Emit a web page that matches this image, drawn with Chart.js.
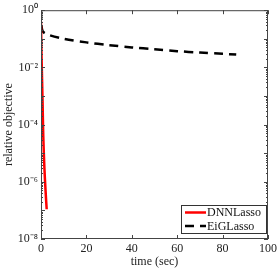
<!DOCTYPE html>
<html>
<head>
<meta charset="utf-8">
<script src="https://cdn.jsdelivr.net/npm/chart.js@4"></script>
<style>
  html, body { margin: 0; padding: 0; background: #fff; }
  #wrap { width: 280px; height: 273px; }
</style>
</head>
<body>
<div id="wrap"><canvas id="chart"></canvas></div>
<script>
// data
const dnnTime = [0, 0.3, 0.7, 1.0, 1.5, 2.0, 2.5];
const dnnObj  = [0.4, 1.5e-2, 6e-4, 4e-5, 3e-6, 5e-7, 1.1e-7];
const eigTime = [0, 0.2, 0.8, 3, 10, 20, 30, 40, 50, 60, 70, 80, 86];
const eigObj  = [1, 0.3, 0.18, 0.14, 0.1, 0.075, 0.06, 0.05, 0.043, 0.037, 0.033, 0.03, 0.028];
const xTicks = [0, 20, 40, 60, 80, 100];
const yTicks = [1, 1e-2, 1e-4, 1e-6, 1e-8];
const yTickLabels = ["10⁰", "10⁻²", "10⁻⁴", "10⁻⁶", "10⁻⁸"];

const FONT = "'Liberation Serif', serif";
const axisColor = "#444";

function pts(xs, ys){
  return xs.map((x, i) => ({ x: x, y: ys[i] }));
}

// inward ticks on all four sides + box + legend
const frame = {
  id: "frame",
  afterDraw(chart){
    const c = chart.ctx, a = chart.chartArea;
    const xs = chart.scales.x, ys = chart.scales.y;
    c.save();
    c.strokeStyle = axisColor;
    c.lineWidth = 1;
    c.strokeRect(a.left + 0.5, a.top + 0.5, a.right - a.left - 1, a.bottom - a.top - 1);
    c.beginPath();
    xTicks.forEach(v => {
      const px = Math.round(xs.getPixelForValue(v)) + 0.5;
      c.moveTo(px, a.bottom); c.lineTo(px, a.bottom - 4);
      c.moveTo(px, a.top); c.lineTo(px, a.top + 4);
    });
    for (let e = -8; e <= 0; e++) {
      for (let k = 1; k <= 9; k++) {
        const v = k * Math.pow(10, e);
        if (v > 1) break;
        const len = k === 1 ? 4 : 2;
        const py = Math.round(ys.getPixelForValue(v)) + 0.5;
        c.moveTo(a.left, py); c.lineTo(a.left + len, py);
        c.moveTo(a.right, py); c.lineTo(a.right - len, py);
      }
    }
    c.stroke();

    // legend inside plot, bottom right
    const w = 85, h = 28;
    const bx = a.right - 2 - w, by = a.bottom - 6 - h;
    c.fillStyle = "#fff";
    c.fillRect(bx, by, w, h);
    c.strokeStyle = "#333";
    c.strokeRect(bx + 0.5, by + 0.5, w, h);
    c.font = "12px " + FONT;
    c.textBaseline = "middle";
    chart.data.datasets.forEach((ds, i) => {
      const ly = by + 7.5 + i * 13.5;
      c.strokeStyle = ds.borderColor;
      c.lineWidth = ds.borderWidth;
      c.setLineDash(ds.borderDash || []);
      c.beginPath();
      c.moveTo(bx + 4, ly); c.lineTo(bx + 25, ly);
      c.stroke();
      c.setLineDash([]);
      c.fillStyle = "#111";
      c.fillText(ds.label, bx + 26, ly + 0.5);
    });
    c.restore();
  }
};

new Chart(document.getElementById("chart"), {
  type: "line",
  data: {
    datasets: [
      {
        label: "DNNLasso",
        data: pts(dnnTime, dnnObj),
        borderColor: "#ff0000",
        borderWidth: 2.5,
        pointRadius: 0,
        tension: 0.3,
        order: 0
      },
      {
        label: "EiGLasso",
        data: pts(eigTime, eigObj),
        borderColor: "#000",
        borderWidth: 2.5,
        borderDash: [9, 6],
        pointRadius: 0,
        tension: 0.3,
        order: 1
      }
    ]
  },
  options: {
    responsive: true,
    maintainAspectRatio: false,
    animation: false,
    layout: { padding: { top: 9, right: 9, left: 0, bottom: 0 } },
    plugins: { legend: { display: false }, tooltip: { enabled: false } },
    scales: {
      x: {
        type: "linear",
        min: 0, max: 100,
        afterBuildTicks: s => { s.ticks = xTicks.map(v => ({ value: v })); },
        ticks: { color: "#222", font: { family: FONT, size: 12 }, padding: 3, maxRotation: 0 },
        grid: { display: false, drawTicks: false },
        border: { display: false },
        title: { display: true, text: "time (sec)", color: "#222", font: { family: FONT, size: 12 }, padding: { top: 0, bottom: 4 } },
        afterFit: s => { s.height = 34; }
      },
      y: {
        type: "logarithmic",
        min: 1e-8, max: 1,
        afterBuildTicks: s => { s.ticks = yTicks.map(v => ({ value: v })); },
        ticks: {
          color: "#222",
          font: { family: FONT, size: 12 },
          padding: 3,
          autoSkip: false,
          callback: v => {
            const i = yTicks.findIndex(t => Math.abs(Math.log10(t) - Math.log10(v)) < 1e-6);
            return i >= 0 ? yTickLabels[i] : "";
          }
        },
        grid: { display: false, drawTicks: false },
        border: { display: false },
        title: { display: true, text: "relative objective", color: "#222", font: { family: FONT, size: 12 }, padding: { top: 2, bottom: 0 } },
        afterFit: s => { s.width = 41; }
      }
    }
  },
  plugins: [frame]
});
</script>
</body>
</html>
